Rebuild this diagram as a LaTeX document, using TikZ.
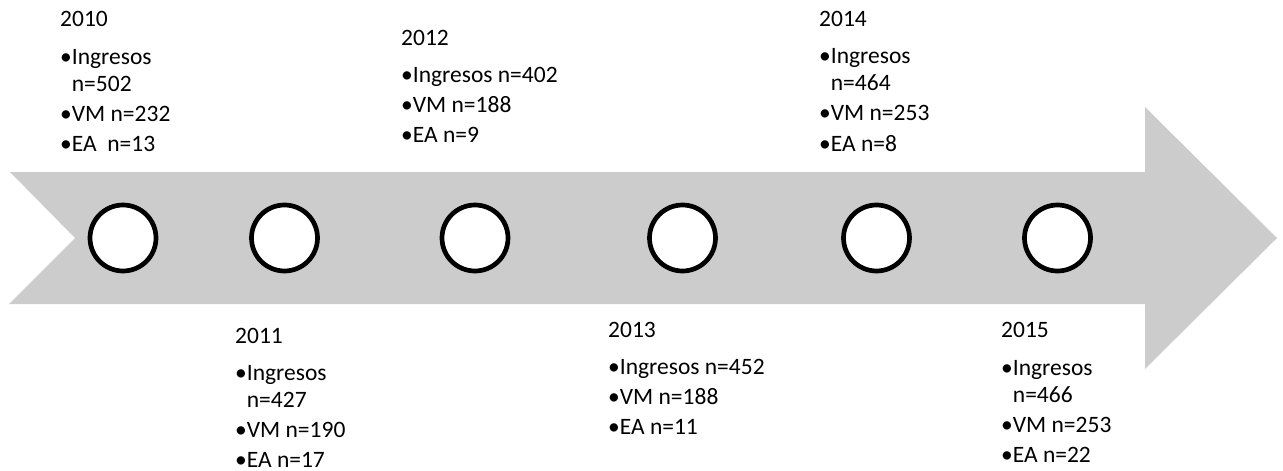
\documentclass[tikz,border=0pt]{standalone}
\usepackage{fontspec}
\setmainfont{Carlito}
\newcommand\itm{•}
\newcommand\hang{\phantom{•}}
\definecolor{bandgray}{HTML}{CCCCCC}
\begin{document}
\begin{tikzpicture}[x=1pt,y=-1pt,
  yearlbl/.style={anchor=base west, inner sep=0pt, font=\fontsize{23.5}{27}\selectfont},
  itemlbl/.style={anchor=base west, inner sep=0pt, align=left, font=\fontsize{23.5}{27}\selectfont},
  milestone/.style={circle, draw=black, line width=4.7pt, fill=white, minimum size=66pt, inner sep=0pt}]
\useasboundingbox (0,0) rectangle (1283,471);

% timeline band: notched tail, block arrow head
\fill[bandgray] (10,172) -- (1145,172) -- (1145,107) -- (1277,238)
  -- (1145,369) -- (1145,304) -- (9,304) -- (75,238) -- cycle;

% milestones
\node[milestone] (m2010) at (123,238) {};
\node[milestone] (m2011) at (284.5,238) {};
\node[milestone] (m2012) at (475,238) {};
\node[milestone] (m2013) at (682.5,238) {};
\node[milestone] (m2014) at (876.5,238) {};
\node[milestone] (m2015) at (1057.5,238) {};

% two-line items are anchored on the baseline of their last line

% 2010
\node[yearlbl] (y2010) at (60,27) {2010};
\node[itemlbl] (i2010a) at (60,91) {\itm Ingresos\\\hang n=502};
\node[itemlbl] (i2010b) at (60,121) {\itm VM n=232};
\node[itemlbl] (i2010c) at (60,151) {\itm EA\ \ n=13};

% 2011
\node[yearlbl] (y2011) at (235,343) {2011};
\node[itemlbl] (i2011a) at (235,407) {\itm Ingresos\\\hang n=427};
\node[itemlbl] (i2011b) at (235,437) {\itm VM n=190};
\node[itemlbl] (i2011c) at (235,467) {\itm EA n=17};

% 2012
\node[yearlbl] (y2012) at (401,45) {2012};
\node[itemlbl] (i2012a) at (401,82) {\itm Ingresos n=402};
\node[itemlbl] (i2012b) at (401,112) {\itm VM n=188};
\node[itemlbl] (i2012c) at (401,142) {\itm EA n=9};

% 2013
\node[yearlbl] (y2013) at (608,337) {2013};
\node[itemlbl] (i2013a) at (608,374) {\itm Ingresos n=452};
\node[itemlbl] (i2013b) at (608,404) {\itm VM n=188};
\node[itemlbl] (i2013c) at (608,434) {\itm EA n=11};

% 2014
\node[yearlbl] (y2014) at (819,27) {2014};
\node[itemlbl] (i2014a) at (819,90) {\itm Ingresos\\\hang n=464};
\node[itemlbl] (i2014b) at (819,120) {\itm VM n=253};
\node[itemlbl] (i2014c) at (819,151) {\itm EA n=8};

% 2015
\node[yearlbl] (y2015) at (1001,337) {2015};
\node[itemlbl] (i2015a) at (1001,402) {\itm Ingresos\\\hang n=466};
\node[itemlbl] (i2015b) at (1001,432) {\itm VM n=253};
\node[itemlbl] (i2015c) at (1001,462) {\itm EA n=22};
\end{tikzpicture}
\end{document}
